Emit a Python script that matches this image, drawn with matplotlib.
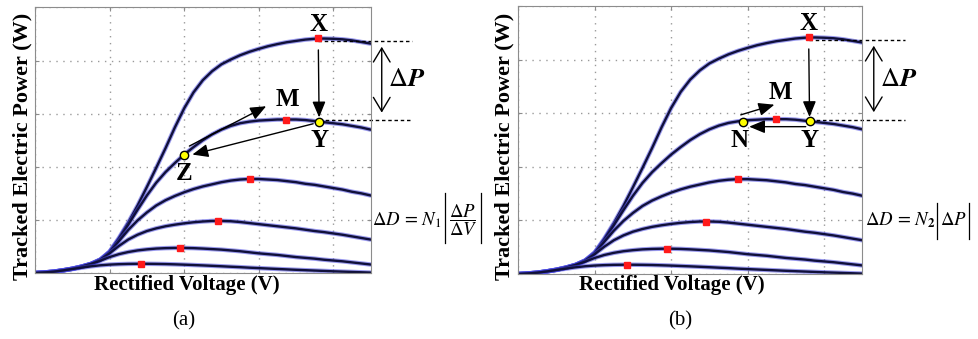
import matplotlib.pyplot as plt

plt.rcParams['font.family'] = ['Liberation Serif', 'DejaVu Serif']
plt.rcParams['mathtext.fontset'] = 'stix'

# rectified voltage samples (arbitrary units, grid every 1.0)
volt = [0.0, 0.125, 0.25, 0.375, 0.5, 0.625, 0.75, 0.875, 1.0, 1.125, 1.25, 1.375,
        1.5, 1.625, 1.75, 1.875, 2.0, 2.125, 2.25, 2.375, 2.5, 2.625, 2.75, 2.875,
        3.0, 3.125, 3.25, 3.375, 3.5, 3.625, 3.75, 3.875, 4.0, 4.125, 4.25, 4.375, 4.5]
# tracked power curves, highest wind speed first
p1 = [0.0, 0.01, 0.025, 0.05, 0.08, 0.12, 0.17, 0.25, 0.40, 0.66, 0.95, 1.27,
      1.62, 1.98, 2.35, 2.74, 3.10, 3.40, 3.63, 3.80, 3.93, 4.02, 4.10, 4.165,
      4.22, 4.27, 4.31, 4.345, 4.37, 4.395, 4.41, 4.415, 4.41, 4.40, 4.38, 4.35, 4.32]
p2 = [0.0, 0.01, 0.025, 0.05, 0.08, 0.12, 0.17, 0.25, 0.40, 0.64, 0.91, 1.19,
      1.46, 1.70, 1.90, 2.07, 2.23, 2.37, 2.50, 2.61, 2.70, 2.77, 2.82, 2.85,
      2.87, 2.88, 2.89, 2.89, 2.89, 2.88, 2.86, 2.84, 2.82, 2.80, 2.77, 2.74, 2.70]
p3 = [0.0, 0.01, 0.025, 0.05, 0.08, 0.12, 0.17, 0.25, 0.39, 0.60, 0.81, 0.99,
      1.14, 1.27, 1.37, 1.45, 1.52, 1.58, 1.63, 1.67, 1.71, 1.74, 1.76, 1.77,
      1.77, 1.76, 1.75, 1.73, 1.71, 1.68, 1.66, 1.63, 1.60, 1.57, 1.53, 1.50, 1.46]
p4 = [0.0, 0.01, 0.025, 0.05, 0.08, 0.12, 0.17, 0.25, 0.37, 0.51, 0.63, 0.72,
      0.79, 0.84, 0.88, 0.91, 0.935, 0.955, 0.97, 0.98, 0.98, 0.975, 0.96, 0.94,
      0.92, 0.90, 0.88, 0.86, 0.84, 0.815, 0.79, 0.77, 0.745, 0.72, 0.69, 0.66, 0.63]
p5 = [0.0, 0.01, 0.025, 0.05, 0.08, 0.12, 0.17, 0.23, 0.30, 0.355, 0.395, 0.425,
      0.445, 0.46, 0.468, 0.472, 0.472, 0.468, 0.46, 0.45, 0.44, 0.425, 0.41, 0.39,
      0.37, 0.355, 0.34, 0.32, 0.30, 0.285, 0.27, 0.25, 0.235, 0.22, 0.20, 0.18, 0.16]
p6 = [0.0, 0.01, 0.025, 0.048, 0.075, 0.10, 0.125, 0.145, 0.158, 0.166, 0.171, 0.173,
      0.173, 0.171, 0.168, 0.163, 0.157, 0.15, 0.143, 0.135, 0.127, 0.118, 0.11, 0.10,
      0.092, 0.084, 0.076, 0.068, 0.06, 0.053, 0.046, 0.039, 0.032, 0.026, 0.02, 0.014, 0.008]
curves = [p1, p2, p3, p4, p5, p6]

# maximum power points (red squares)
mpp_v = [3.80, 3.37, 2.88, 2.46, 1.94, 1.42]
mpp_p = [4.42, 2.89, 1.77, 0.98, 0.47, 0.17]

# operating points
pt_x = (3.80, 4.42)
pt_y = (3.81, 2.85)
pt_z = (2.00, 2.23)
pt_n = (2.94, 2.83)

fig = plt.figure(figsize=(9.79, 3.39), dpi=100)
ax_a = fig.add_axes([0.0358, 0.1947, 0.3427, 0.7833])
ax_b = fig.add_axes([0.5294, 0.1917, 0.3514, 0.7903])

bold = dict(fontweight='bold', fontsize=18, ha='center', va='center')
arrow = dict(arrowstyle='-|>,head_length=0.6,head_width=0.25', color='k', lw=1,
             mutation_scale=16, shrinkA=0, shrinkB=0)


def draw_panel(ax):
    ax.set_xlim(0, 4.5)
    ax.set_ylim(0, 5)
    ax.set_xticks([0, 1, 2, 3, 4])
    ax.set_yticks([0, 1, 2, 3, 4, 5])
    ax.grid(True, color='#9a9a9a', linestyle=(0, (1, 4)), lw=1)
    ax.tick_params(direction='in', length=3, color='#8c8c8c', top=True, right=True,
                   labelbottom=False, labelleft=False)
    for s in ax.spines.values():
        s.set_color('#8c8c8c')
    for p in curves:
        ax.plot(volt, p, color='#4848e0', lw=3.2, alpha=0.55, solid_capstyle='round')
        ax.plot(volt, p, color='#10103a', lw=1.7)
    ax.plot(mpp_v, mpp_p, 's', color='#ff1a1a', ms=5, zorder=4)

    # X -> Y and the delta P marker
    ax.text(pt_x[0], 4.68, 'X', **bold)
    ax.annotate('', xy=(pt_y[0], pt_y[1] + 0.08), xytext=(pt_x[0], pt_x[1] - 0.22), arrowprops=arrow)
    ax.plot([pt_x[0], 5.06], [4.37, 4.37], color='k', lw=1, ls=(0, (2.5, 2)), clip_on=False)
    ax.plot([pt_y[0], 5.06], [2.88, 2.88], color='k', lw=1, ls=(0, (2.5, 2)), clip_on=False)
    ax.annotate('', xy=(4.65, 4.26), xytext=(4.65, 3.02),
                arrowprops=dict(arrowstyle='<->,head_length=0.5,head_width=0.3', color='k', lw=1,
                                mutation_scale=20, shrinkA=0, shrinkB=0), annotation_clip=False)
    ax.text(4.73, 3.63, r'$\Delta\mathbfit{P}$', fontsize=19, va='center', ha='left', clip_on=False)
    ax.text(pt_y[0], 2.50, 'Y', **bold)


def abs_formula(ax, x0, lead, inner, y0, y1, gap):
    # "lead |inner|" with thin, tall bars drawn as lines
    r = fig.canvas.get_renderer()
    inv = ax.transData.inverted()
    t1 = ax.text(x0, 1.0, lead, fontsize=13.5, ha='left', va='center', clip_on=False)
    xb1 = inv.transform((t1.get_window_extent(r).x1, 0))[0] + gap
    t2 = ax.text(xb1 + gap, 1.0, inner, fontsize=13.5, ha='left', va='center', clip_on=False)
    xb2 = inv.transform((t2.get_window_extent(r).x1, 0))[0] + gap
    ax.plot([xb1, xb1], [y0, y1], color='k', lw=0.9, clip_on=False)
    ax.plot([xb2, xb2], [y0, y1], color='k', lw=0.9, clip_on=False)


draw_panel(ax_a)
ax_a.annotate('', xy=(3.10, 3.14), xytext=(2.07, 2.39), arrowprops=arrow)
ax_a.annotate('', xy=(2.11, 2.23), xytext=(3.73, 2.81), arrowprops=arrow)
ax_a.plot(*pt_y, 'o', mfc='#ffff00', mec='k', ms=6, mew=1, zorder=6)
ax_a.plot(*pt_z, 'o', mfc='#ffff00', mec='k', ms=6, mew=1, zorder=6)
ax_a.text(3.39, 3.27, 'M', **bold)
ax_a.text(pt_z[0], 1.88, 'Z', **bold)

draw_panel(ax_b)
ax_b.annotate('', xy=(3.35, 3.16), xytext=(2.91, 2.97), arrowprops=arrow)
ax_b.annotate('', xy=(3.02, 2.75), xytext=(3.76, 2.75), arrowprops=arrow)
ax_b.plot(*pt_y, 'o', mfc='#ffff00', mec='k', ms=6, mew=1, zorder=6)
ax_b.plot(*pt_n, 'o', mfc='#ffff00', mec='k', ms=6, mew=1, zorder=6)
ax_b.text(3.43, 3.38, 'M', **bold)
ax_b.text(pt_n[0] - 0.05, 2.50, 'N', **bold)

abs_formula(ax_a, 4.52, r'$\Delta D\,=\,N_1$', r'$\dfrac{\Delta P}{\Delta V}$', 0.56, 1.5, gap=0.05)
abs_formula(ax_b, 4.53, r'$\Delta D\,=\,N_{\mathbf{2}}$', r'$\Delta P$', 0.66, 1.32, gap=0.03)

# axis titles and panel tags
fig.text(0.0232, 0.569, 'Tracked Electric Power (W)', rotation=90, ha='center', va='center',
         fontweight='bold', fontsize=16)
fig.text(0.5158, 0.569, 'Tracked Electric Power (W)', rotation=90, ha='center', va='center',
         fontweight='bold', fontsize=16)
fig.text(0.1905, 0.159, 'Rectified Voltage (V)', ha='center', va='center', fontweight='bold', fontsize=15)
fig.text(0.6864, 0.159, 'Rectified Voltage (V)', ha='center', va='center', fontweight='bold', fontsize=15)
fig.text(0.188, 0.053, '(a)', ha='center', va='center', fontsize=15)
fig.text(0.695, 0.053, '(b)', ha='center', va='center', fontsize=15)

fig.savefig('out.png', dpi=100)
